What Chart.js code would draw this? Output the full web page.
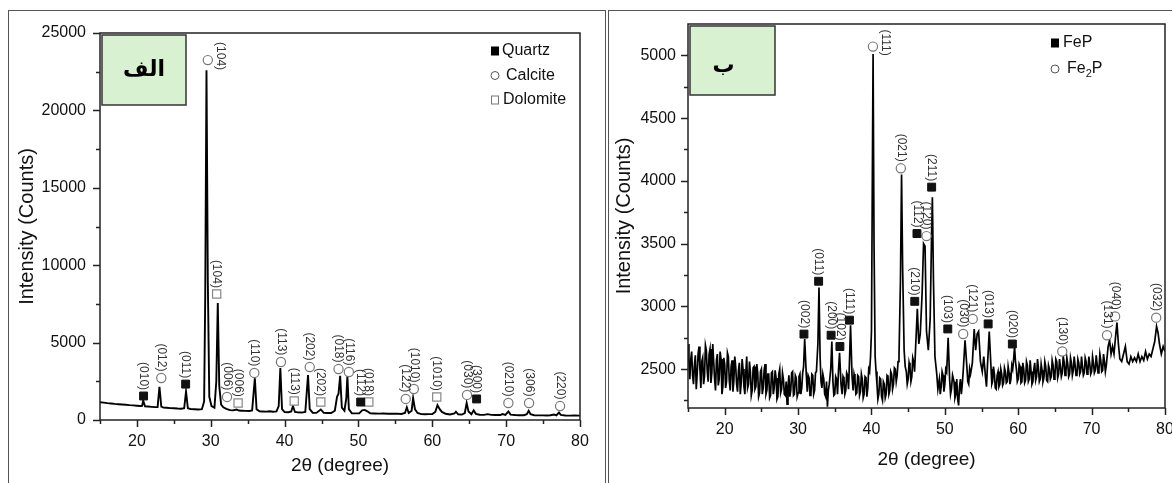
<!DOCTYPE html>
<html>
<head>
<meta charset="utf-8">
<script src="https://cdn.jsdelivr.net/npm/chart.js@4.4.1/dist/chart.umd.min.js"></script>
<style>
  body { margin:0; background:#fff; width:1172px; height:483px; overflow:hidden; position:relative; }
  .panel { position:absolute; top:10px; height:520px; border:1.5px solid #555; box-sizing:border-box; }
  #p1 { left:8px; width:598px; }
  #p2 { left:608px; width:580px; }
  canvas { position:absolute; }
</style>
</head>
<body>
<div class="panel" id="p1"></div>
<div class="panel" id="p2"></div>
<canvas id="chartA" width="593" height="471" style="left:10px;top:12px"></canvas>
<canvas id="chartB" width="562" height="471" style="left:610px;top:12px"></canvas>
<script>
// panel الف : raw sample, [2theta, counts]
const scanA = [
  [15.0,1150],[15.5,1120],[16.0,1090],[16.5,1070],[17.0,1040],[17.5,1020],[18.0,1000],[18.5,985],
  [19.0,960],[19.5,945],[20.0,920],[20.5,900],[20.7,910],[20.85,1250],[21.1,880],[21.5,870],
  [22.0,850],[22.5,830],[22.8,840],[23.05,2150],[23.3,860],[23.6,800],[24.0,790],[24.5,770],
  [25.0,760],[25.5,740],[26.0,730],[26.4,760],[26.65,1850],[26.9,760],[27.3,700],[27.8,690],
  [28.3,680],[28.8,700],[29.1,1200],[29.25,8000],[29.42,22600],[29.6,9000],[29.8,1500],[30.1,900],
  [30.5,800],[30.75,2500],[30.95,7560],[31.15,2200],[31.4,1000],[31.7,820],[32.1,720],[32.6,640],
  [33.0,620],[33.5,680],[33.8,610],[34.2,600],[34.7,590],[35.2,580],[35.6,620],[35.97,2700],
  [36.2,700],[36.6,560],[37.0,550],[37.5,540],[38.0,560],[38.4,530],[38.9,560],[39.2,900],
  [39.42,3350],[39.65,700],[40.0,510],[40.5,500],[40.9,550],[41.13,900],[41.4,520],[41.8,490],
  [42.3,480],[42.8,520],[43.17,2900],[43.4,700],[43.8,470],[44.3,460],[44.9,680],[45.3,460],
  [45.8,450],[46.3,450],[46.8,600],[47.1,1500],[47.3,1700],[47.52,2850],[47.75,800],[48.1,600],
  [48.35,1400],[48.5,2840],[48.7,700],[49.1,430],[49.6,430],[50.1,430],[50.5,620],[50.85,650],
  [51.2,560],[51.6,430],[52.2,420],[52.8,410],[53.4,420],[54.0,400],[54.6,400],[55.2,410],
  [55.8,390],[56.3,450],[56.55,820],[56.8,450],[57.2,600],[57.4,1420],[57.65,700],[58.0,450],
  [58.5,380],[59.0,370],[59.5,380],[60.0,380],[60.4,520],[60.7,960],[61.0,700],[61.3,520],
  [61.8,400],[62.4,360],[63.0,420],[63.2,540],[63.5,370],[64.0,350],[64.4,450],[64.65,1100],
  [64.9,550],[65.3,370],[65.6,620],[65.9,400],[66.4,340],[67.0,330],[67.5,380],[68.0,330],
  [68.6,320],[69.2,320],[69.5,380],[69.9,330],[70.3,550],[70.6,350],[71.2,320],[71.8,310],
  [72.4,310],[72.8,380],[73.05,600],[73.3,380],[73.8,310],[74.4,300],[75.0,300],[75.5,290],
  [76.0,310],[76.5,350],[76.8,300],[77.15,480],[77.4,330],[78.0,290],[78.6,280],[79.2,290],[80.0,280]
];
const quartzX = [20.9, 26.6, 50.3, 66.0];
const quartzY = [1550, 2320, 1160, 1360];
const quartzHkl = ['(010)', '(011)', '(112)', '(300)'];
const calciteX = [23.3, 29.6, 32.2, 35.9, 39.5, 43.4, 47.3, 48.7, 56.4, 57.5, 64.7, 70.3, 73.1, 77.3];
const calciteY = [2710, 23250, 1490, 3040, 3750, 3420, 3290, 3100, 1360, 2000, 1620, 1100, 1100, 900];
const calciteHkl = ['(012)', '(104)', '(006)', '(110)', '(113)', '(202)', '(018)', '(116)', '(122)', '(1010)', '(030)', '(0210)', '(306)', '(220)'];
const dolomiteX = [30.8, 33.7, 41.3, 44.9, 51.4, 60.6];
const dolomiteY = [8140, 1100, 1230, 1160, 1160, 1490];
const dolomiteHkl = ['(104)', '(006)', '(113)', '(202)', '(018)', '(1010)'];
const ticksAx = [20, 30, 40, 50, 60, 70, 80];
const minorAx = [15, 25, 35, 45, 55, 65, 75];
const ticksAy = [0, 5000, 10000, 15000, 20000, 25000];
const minorAy = [2500, 7500, 12500, 17500, 22500];

// panel ب : phosphide product
const scanB = [
  [15.000,2700],[15.125,2560],[15.250,2420],[15.375,2580],[15.500,2640],[15.625,2450],[15.750,2380],[15.875,2530],
  [16.000,2610],[16.125,2340],[16.250,2460],[16.375,2620],[16.500,2680],[16.625,2500],[16.750,2350],[16.875,2560],
  [17.000,2590],[17.125,2380],[17.250,2440],[17.375,2690],[17.500,2650],[17.625,2480],[17.750,2400],[17.875,2620],
  [18.000,2660],[18.125,2390],[18.250,2470],[18.375,2700],[18.500,2560],[18.625,2420],[18.750,2330],[18.875,2570],
  [19.000,2620],[19.125,2370],[19.250,2420],[19.375,2640],[19.500,2580],[19.625,2300],[19.750,2360],[19.875,2590],
  [20.000,2540],[20.125,2350],[20.250,2400],[20.375,2630],[20.500,2600],[20.625,2410],[20.750,2330],[20.875,2520],
  [21.000,2570],[21.125,2320],[21.250,2410],[21.375,2600],[21.500,2520],[21.625,2380],[21.750,2320],[21.875,2490],
  [22.000,2550],[22.125,2300],[22.250,2390],[22.375,2580],[22.500,2500],[22.625,2360],[22.750,2300],[22.875,2470],
  [23.000,2600],[23.125,2350],[23.250,2380],[23.375,2560],[23.500,2480],[23.625,2290],[23.750,2330],[23.875,2510],
  [24.000,2520],[24.125,2340],[24.250,2360],[24.375,2540],[24.500,2470],[24.625,2280],[24.750,2310],[24.875,2480],
  [25.000,2500],[25.125,2300],[25.250,2350],[25.375,2490],[25.500,2540],[25.625,2300],[25.750,2330],[25.875,2460],
  [26.000,2460],[26.125,2270],[26.250,2290],[26.375,2470],[26.500,2480],[26.625,2300],[26.750,2350],[26.875,2490],
  [27.000,2430],[27.125,2260],[27.250,2280],[27.375,2460],[27.500,2500],[27.625,2310],[27.750,2340],[27.875,2470],
  [28.000,2420],[28.125,2300],[28.250,2290],[28.375,2400],[28.500,2220],[28.625,2360],[28.750,2450],[28.875,2280],
  [29.000,2330],[29.125,2470],[29.250,2480],[29.375,2290],[29.500,2300],[29.625,2450],[29.750,2430],[29.875,2280],
  [30.000,2310],[30.125,2440],[30.250,2460],[30.375,2300],[30.500,2350],[30.625,2470],[30.750,2520],
  [30.90,2740],[31.10,2480],[31.25,2320],[31.375,2450],[31.50,2430],[31.625,2290],[31.75,2300],[31.875,2460],
  [32.00,2450],[32.125,2300],[32.25,2330],[32.375,2470],[32.50,2480],[32.70,2700],[32.85,3150],[33.00,2600],
  [33.125,2400],[33.25,2350],[33.375,2460],[33.50,2420],[33.625,2300],[33.75,2280],[33.875,2400],[34.00,2200],
  [34.125,2330],[34.25,2380],[34.45,2500],[34.60,2720],[34.75,2400],[34.875,2290],[35.00,2300],[35.125,2440],
  [35.25,2420],[35.375,2300],[35.50,2480],[35.65,2630],[35.85,2380],[36.00,2300],[36.125,2440],[36.25,2420],
  [36.375,2300],[36.50,2330],[36.625,2470],[36.75,2450],[36.875,2340],[37.00,2550],[37.15,2850],[37.35,2450],
  [37.50,2330],[37.625,2460],[37.75,2420],[37.875,2300],[38.00,2310],[38.125,2450],[38.25,2440],[38.375,2290],
  [38.50,2320],[38.625,2460],[38.75,2420],[38.875,2270],[39.00,2300],[39.125,2440],[39.25,2430],[39.375,2280],
  [39.50,2350],[39.625,2500],[39.75,2480],[39.875,2600],[40.00,2800],[40.10,3800],[40.22,5010],[40.35,3500],
  [40.50,2600],[40.625,2480],[40.75,2380],[40.875,2260],[41.00,2300],[41.125,2430],[41.25,2420],[41.375,2280],
  [41.50,2250],[41.625,2400],[41.75,2380],[41.875,2270],[42.00,2300],[42.125,2450],[42.25,2440],[42.375,2300],
  [42.50,2330],[42.625,2480],[42.75,2460],[42.875,2340],[43.00,2380],[43.125,2510],[43.25,2500],[43.375,2400],
  [43.50,2450],[43.625,2560],[43.75,2600],[43.95,3200],[44.10,4050],[44.25,3300],[44.45,2650],[44.60,2520],
  [44.75,2480],[44.875,2380],[45.00,2420],[45.125,2550],[45.25,2510],[45.375,2400],[45.50,2440],[45.625,2590],
  [45.75,2560],[45.875,2480],[46.00,2650],[46.25,2980],[46.45,2700],[46.65,2780],[46.90,3100],[47.10,3500],
  [47.30,3480],[47.50,2800],[47.75,2650],[48.00,2900],[48.20,3600],[48.30,3870],[48.45,3200],[48.65,2600],
  [48.90,2460],[49.05,2340],[49.25,2420],[49.375,2300],[49.50,2360],[49.625,2480],[49.75,2450],[49.875,2320],
  [50.00,2380],[50.125,2500],[50.25,2480],[50.45,2750],[50.65,2420],[50.775,2300],[50.90,2340],[51.05,2450],
  [51.25,2400],[51.375,2270],[51.50,2300],[51.625,2420],[51.75,2260],[51.875,2210],[52.00,2360],[52.125,2420],
  [52.25,2300],[52.375,2380],[52.50,2480],[52.75,2730],[53.00,2520],[53.125,2400],[53.25,2380],[53.375,2500],
  [53.50,2460],[53.75,2550],[54.00,2820],[54.20,2650],[54.40,2780],[54.60,2800],[54.85,2560],[55.10,2480],
  [55.30,2600],[55.55,2430],[55.675,2360],[55.80,2520],[56.05,2800],[56.30,2500],[56.40,2380],[56.50,2400],
  [56.625,2520],[56.75,2460],[56.875,2350],[57.000,2340],[57.125,2450],[57.250,2480],[57.375,2360],[57.500,2380],
  [57.625,2500],[57.750,2460],[57.875,2370],[58.000,2390],[58.125,2510],[58.250,2480],[58.375,2390],[58.500,2400],
  [58.625,2520],[58.750,2470],[58.875,2380],[59.000,2420],[59.125,2530],[59.250,2500],[59.375,2580],[59.500,2680],
  [59.625,2560],[59.750,2500],[59.875,2400],[60.000,2420],[60.125,2540],[60.250,2520],[60.375,2390],[60.500,2400],
  [60.625,2550],[60.750,2500],[60.875,2390],[61.000,2410],[61.125,2560],[61.250,2530],[61.375,2400],[61.500,2420],
  [61.625,2570],[61.750,2480],[61.875,2380],[62.000,2400],[62.125,2500],[62.250,2550],[62.375,2410],[62.500,2440],
  [62.625,2580],[62.750,2510],[62.875,2400],[63.000,2420],[63.125,2540],[63.250,2490],[63.375,2400],[63.500,2430],
  [63.625,2560],[63.750,2520],[63.875,2410],[64.000,2400],[64.125,2530],[64.250,2500],[64.375,2420],[64.500,2440],
  [64.625,2570],[64.750,2530],[64.875,2420],[65.000,2450],[65.125,2580],[65.250,2560],[65.375,2430],[65.500,2460],
  [65.625,2580],[65.750,2520],[65.875,2440],[66.000,2470],[66.125,2600],[66.250,2560],[66.375,2450],[66.500,2480],
  [66.625,2590],[66.750,2540],[66.875,2440],[67.000,2460],[67.125,2590],[67.250,2550],[67.375,2450],[67.500,2490],
  [67.625,2600],[67.750,2530],[67.875,2450],[68.000,2460],[68.125,2580],[68.250,2550],[68.375,2460],[68.500,2480],
  [68.625,2600],[68.750,2520],[68.875,2450],[69.000,2470],[69.125,2590],[69.250,2560],[69.375,2460],[69.500,2490],
  [69.625,2600],[69.750,2540],[69.875,2460],[70.000,2480],[70.125,2600],[70.250,2550],[70.375,2470],[70.500,2490],
  [70.625,2610],[70.750,2540],[70.875,2470],[71.000,2500],[71.125,2620],[71.250,2570],[71.375,2480],[71.500,2490],
  [71.625,2620],[71.750,2560],[71.875,2480],[72.000,2530],
  [72.25,2680],[72.45,2730],[72.65,2620],[72.85,2680],[73.05,2620],[73.25,2750],[73.45,2870],[73.65,2700],
  [73.85,2580],[74.10,2560],[74.35,2620],[74.60,2680],[74.85,2560],[75.10,2540],[75.35,2600],[75.60,2560],
  [75.85,2590],[76.10,2560],[76.35,2620],[76.60,2560],[76.85,2600],[77.10,2570],[77.35,2640],[77.60,2580],
  [77.85,2620],[78.10,2600],[78.35,2660],[78.60,2720],[78.85,2840],[79.05,2790],[79.25,2700],[79.50,2620],
  [79.75,2680],[80.00,2640]
];
const fepX = [30.8, 32.8, 34.5, 35.7, 37.0, 45.9, 46.2, 48.2, 50.4, 55.9, 59.2];
const fepY = [2779, 3200, 2770, 2680, 2890, 3040, 3580, 3950, 2820, 2860, 2700];
const fepHkl = ['(002)', '(011)', '(200)', '(102)', '(111)', '(210)', '(112)', '(211)', '(103)', '(013)', '(020)'];
const fe2pX = [40.2, 44.0, 47.5, 52.5, 53.8, 66.0, 72.1, 73.2, 78.8];
const fe2pY = [5070, 4100, 3560, 2780, 2900, 2640, 2770, 2920, 2910];
const fe2pHkl = ['(111)', '(021)', '(120)', '(030)', '(121)', '(130)', '(131)', '(040)', '(032)'];
const ticksBx = [20, 30, 40, 50, 60, 70, 80];
const minorBx = [15, 25, 35, 45, 55, 65, 75];
const ticksBy = [2500, 3000, 3500, 4000, 4500, 5000];
const minorBy = [2250, 2750, 3250, 3750, 4250, 4750];

const FONT = '"Liberation Sans", Arial, sans-serif';
const pts = (xs, ys) => xs.map((x, i) => ({ x: x, y: ys[i] }));

function markerSet(label, xs, ys, hkl, style) {
  const s = {
    filled: { pointStyle: 'rect', pointRadius: 5.6, backgroundColor: '#111', borderColor: '#111', borderWidth: 1 },
    circle: { pointStyle: 'circle', pointRadius: 4.6, backgroundColor: '#fff', borderColor: '#777', borderWidth: 1.2 },
    open: { pointStyle: 'rect', pointRadius: 5.8, backgroundColor: '#fff', borderColor: '#888', borderWidth: 1.2 }
  }[style];
  return Object.assign({
    label: label, data: pts(xs, ys), hkl: hkl, showLine: false, order: 0, clip: false,
    pointHoverRadius: s.pointRadius
  }, s);
}

// ticks, frame, hkl labels, legend and the letter box
const decor = {
  id: 'decor',
  afterDatasetsDraw(chart, args, o) {
    const { ctx, chartArea: a, scales } = chart;
    ctx.save();
    ctx.strokeStyle = '#222';
    ctx.lineWidth = 1.5;
    ctx.strokeRect(a.left, a.top, a.right - a.left, a.bottom - a.top);
    const tick = (axis, values, len) => {
      const s = scales[axis];
      values.forEach(v => {
        const p = Math.round(s.getPixelForValue(v)) + 0.5;
        ctx.beginPath();
        if (axis === 'x') { ctx.moveTo(p, a.bottom); ctx.lineTo(p, a.bottom + len); }
        else { ctx.moveTo(a.left, p); ctx.lineTo(a.left - len, p); }
        ctx.stroke();
      });
    };
    tick('x', scales.x.ticks.map(t => t.value), 7);
    tick('x', o.minorX, 4);
    tick('y', scales.y.ticks.map(t => t.value), 7);
    tick('y', o.minorY, 4);

    // hkl labels
    ctx.font = '12px ' + FONT;
    ctx.fillStyle = '#333';
    ctx.textBaseline = 'middle';
    chart.data.datasets.forEach((ds, i) => {
      if (!ds.hkl) return;
      const half = ds.pointStyle === 'rect' ? ds.pointRadius * Math.SQRT1_2 : ds.pointRadius;
      chart.getDatasetMeta(i).data.forEach((pt, j) => {
        const txt = ds.hkl[j];
        const w = ctx.measureText(txt).width;
        ctx.save();
        if (pt.y - half - 2 - w < a.top) {
          ctx.translate(pt.x + half + 8, pt.y - 4);
          ctx.rotate(Math.PI / 2);
          ctx.textAlign = 'center';
        } else {
          ctx.translate(pt.x, pt.y - half - 2);
          ctx.rotate(Math.PI / 2);
          ctx.textAlign = 'right';
        }
        ctx.fillText(txt, 0, 0);
        ctx.restore();
      });
    });

    // letter box
    const b = o.box;
    ctx.fillStyle = '#d8f1d0';
    ctx.fillRect(a.left + 2, a.top + 2, b.w, b.h);
    ctx.strokeStyle = '#333';
    ctx.lineWidth = 1.5;
    ctx.strokeRect(a.left + 2, a.top + 2, b.w, b.h);
    ctx.fillStyle = '#000';
    ctx.font = 'bold 22px "DejaVu Sans", sans-serif';
    ctx.textAlign = 'center';
    ctx.textBaseline = 'middle';
    ctx.fillText(b.text, a.left + 2 + b.w / 2 + b.dx, a.top + 2 + b.h / 2 + b.dy);

    // legend
    const L = o.legend;
    ctx.font = '16px ' + FONT;
    ctx.textAlign = 'left';
    L.items.forEach((it, k) => {
      const cx = a.right - L.right, cy = a.top + L.top + k * L.step;
      ctx.lineWidth = 1;
      if (it.sym === 'filled') { ctx.fillStyle = '#000'; ctx.fillRect(cx - 4, cy - 4.5, 8, 9); }
      else if (it.sym === 'circle') { ctx.strokeStyle = '#555'; ctx.beginPath(); ctx.arc(cx, cy, 4, 0, Math.PI * 2); ctx.stroke(); }
      else { ctx.strokeStyle = '#777'; ctx.strokeRect(cx - 3.5, cy - 4, 7, 8); }
      ctx.fillStyle = '#111';
      let tx = cx + it.gap;
      it.parts.forEach(p => {
        ctx.font = (p.sub ? '11px ' : '16px ') + FONT;
        ctx.fillText(p.t, tx, cy + (p.sub ? 5 : 0));
        tx += ctx.measureText(p.t).width;
      });
    });
    ctx.restore();
  }
};

function buildChart(id, cfg) {
  return new Chart(document.getElementById(id), {
    type: 'scatter',
    data: {
      datasets: cfg.markers.concat([{
        label: 'scan', data: cfg.scan.map(p => ({ x: p[0], y: p[1] })), showLine: true,
        borderColor: '#000', borderWidth: cfg.lineWidth, pointRadius: 0, tension: 0, order: 5
      }])
    },
    options: {
      responsive: false,
      animation: false,
      devicePixelRatio: 1,
      layout: { padding: cfg.padding },
      plugins: { legend: { display: false }, tooltip: { enabled: false }, decor: cfg.decor },
      scales: {
        x: {
          type: 'linear', min: 15, max: 80,
          grid: { display: false, drawTicks: false }, border: { display: false },
          afterBuildTicks: s => { s.ticks = cfg.ticksX.map(v => ({ value: v })); },
          afterFit: s => { s.height = cfg.xHeight; s.paddingLeft = 0; s.paddingRight = 0; },
          ticks: { padding: cfg.xPad, color: '#111', font: { family: FONT, size: 16 }, maxRotation: 0, callback: v => String(v) },
          title: { display: true, text: '2\u03b8 (degree)', color: '#111', font: { family: FONT, size: 19 }, padding: { top: 0, bottom: cfg.xTitlePad } }
        },
        y: {
          min: cfg.yMin, max: cfg.yMax,
          grid: { display: false, drawTicks: false }, border: { display: false },
          afterBuildTicks: s => { s.ticks = cfg.ticksY.map(v => ({ value: v })); },
          afterFit: s => { s.width = cfg.yWidth; s.paddingTop = 0; s.paddingBottom = 0; },
          ticks: { padding: cfg.yPad, color: '#111', font: { family: FONT, size: 16 }, callback: v => String(v) },
          title: { display: true, text: 'Intensity (Counts)', color: '#111', font: { family: FONT, size: 20 }, padding: { top: cfg.yTitlePad, bottom: 0 } }
        }
      }
    },
    plugins: [decor]
  });
}

buildChart('chartA', {
  scan: scanA, lineWidth: 1.9,
  markers: [
    markerSet('Quartz', quartzX, quartzY, quartzHkl, 'filled'),
    markerSet('Calcite', calciteX, calciteY, calciteHkl, 'circle'),
    markerSet('Dolomite', dolomiteX, dolomiteY, dolomiteHkl, 'open')
  ],
  padding: { left: 0, top: 21, right: 23, bottom: 0 },
  xHeight: 63, yWidth: 90, xPad: 12, yPad: 14, xTitlePad: 6, yTitlePad: 5,
  yMin: 0, yMax: 25000, ticksX: ticksAx, ticksY: ticksAy,
  decor: {
    minorX: minorAx, minorY: minorAy,
    box: { w: 84, h: 70, text: 'الف', dx: 0, dy: 0 },
    legend: { right: 85, top: 18, step: 24.5, items: [
      { sym: 'filled', gap: 7, parts: [{ t: 'Quartz' }] },
      { sym: 'circle', gap: 11, parts: [{ t: 'Calcite' }] },
      { sym: 'open', gap: 8, parts: [{ t: 'Dolomite' }] }
    ] }
  }
});

buildChart('chartB', {
  scan: scanB, lineWidth: 1.7,
  markers: [
    markerSet('FeP', fepX, fepY, fepHkl, 'filled'),
    markerSet('Fe2P', fe2pX, fe2pY, fe2pHkl, 'circle')
  ],
  padding: { left: 0, top: 12, right: 7, bottom: 0 },
  xHeight: 75, yWidth: 78, xPad: 12, yPad: 12, xTitlePad: 12, yTitlePad: 2,
  yMin: 2190, yMax: 5250, ticksX: ticksBx, ticksY: ticksBy,
  decor: {
    minorX: minorBx, minorY: minorBy,
    box: { w: 85, h: 69, text: 'ب', dx: -9, dy: 6 },
    legend: { right: 110, top: 19, step: 26, items: [
      { sym: 'filled', gap: 8, parts: [{ t: 'FeP' }] },
      { sym: 'circle', gap: 12, parts: [{ t: 'Fe' }, { t: '2', sub: true }, { t: 'P' }] }
    ] }
  }
});
</script>
</body>
</html>
